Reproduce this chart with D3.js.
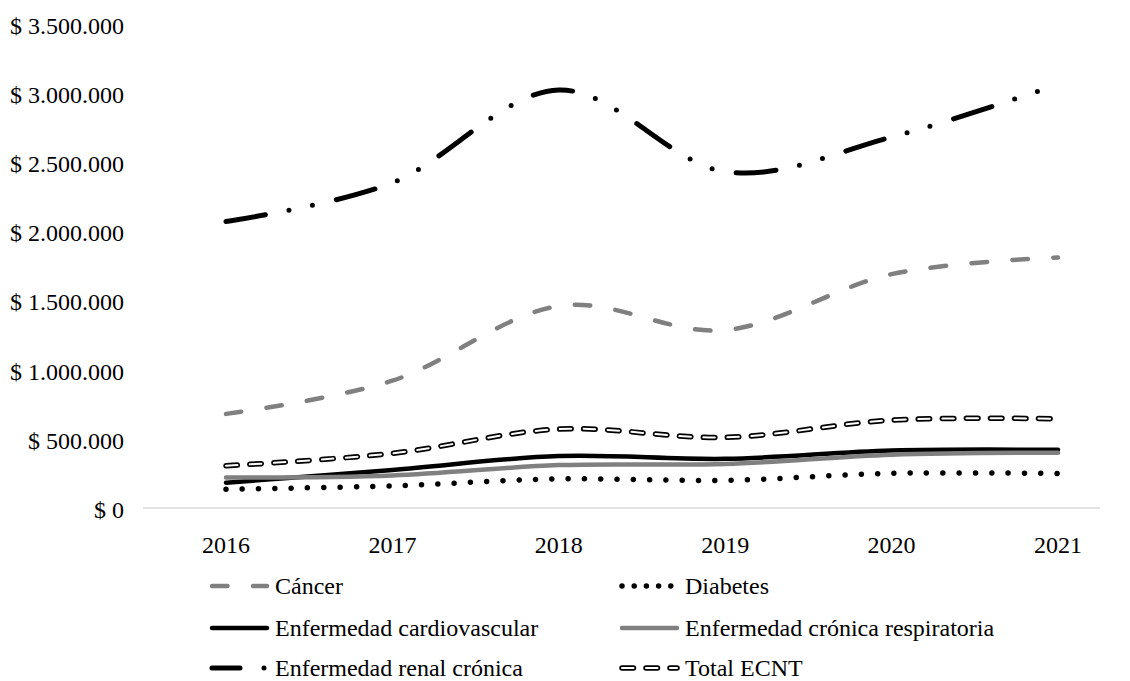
<!DOCTYPE html>
<html>
<head>
<meta charset="utf-8">
<script src="https://cdn.jsdelivr.net/npm/d3@7"></script>
<style>
  body { margin: 0; background: #fff; }
</style>
</head>
<body>
<svg id="chart" width="1130" height="681"></svg>
<script>
const years = ["2016", "2017", "2018", "2019", "2020", "2021"];
const yTicks = [0, 500000, 1000000, 1500000, 2000000, 2500000, 3000000, 3500000];

const cancer = [680000, 920000, 1460000, 1285000, 1690000, 1810000];
const diabetes = [135000, 160000, 210000, 200000, 250000, 250000];
const cardiovascular = [183000, 275000, 375000, 355000, 415000, 420000];
const respiratoria = [220000, 235000, 310000, 318000, 385000, 400000];
const renal = [2070000, 2350000, 3020000, 2430000, 2680000, 3060000];
const totalEcnt = [305000, 395000, 570000, 510000, 635000, 645000];

const seriesNames = ["Cáncer", "Diabetes", "Enfermedad cardiovascular",
  "Enfermedad crónica respiratoria", "Enfermedad renal crónica", "Total ECNT"];

const FONT = "'Liberation Serif', 'DejaVu Serif', 'Times New Roman', Times, serif";

// line styles per series
const styles = [
  { stroke: "#808080", width: 4.5, dash: "15.5 25.5", cap: "round" },
  { stroke: "#000", width: 5.5, dash: "0 16.3", legendDash: "0 12.2", cap: "round" },
  { stroke: "#000", width: 4.5, dash: null, cap: "round" },
  { stroke: "#808080", width: 4.5, dash: null, cap: "round" },
  { stroke: "#000", width: 5, dash: "40 24 0 24 0 24.5", cap: "round", legendOffset: 12 },
  { stroke: "#000", width: 5.5, dash: "11.5 12.5", cap: "round", hollow: true }
];

const allSeries = [cancer, diabetes, cardiovascular, respiratoria, renal, totalEcnt];

const svg = d3.select("#chart")
  .attr("font-family", FONT);

const x = d3.scalePoint().domain(years).range([226, 1058]);
const y = d3.scaleLinear().domain([0, 3500000]).range([508, 23.6]);

const fmt = v => "$ " + d3.format(",")(v).replace(/,/g, ".");

// baseline
svg.append("line")
  .attr("x1", 143).attr("x2", 1100)
  .attr("y1", y(0)).attr("y2", y(0))
  .attr("stroke", "#d9d9d9")
  .attr("stroke-width", 1.5);

// y labels
svg.append("g")
  .selectAll("text")
  .data(yTicks)
  .enter().append("text")
    .attr("x", 124)
    .attr("y", d => y(d) + 2)
    .attr("text-anchor", "end")
    .attr("dominant-baseline", "central")
    .attr("font-size", 24)
    .attr("font-family", FONT)
    .text(fmt);

// x labels
svg.append("g")
  .selectAll("text")
  .data(years)
  .enter().append("text")
    .attr("x", d => x(d))
    .attr("y", 545)
    .attr("text-anchor", "middle")
    .attr("dominant-baseline", "central")
    .attr("font-size", 24)
    .attr("font-family", FONT)
    .text(d => d);

const line = d3.line()
  .x((d, i) => x(years[i]))
  .y(d => y(d))
  .curve(d3.curveCatmullRom.alpha(0));

function styledPath(g, st, dash) {
  const p = g.append("path")
    .attr("fill", "none")
    .attr("stroke", st.stroke)
    .attr("stroke-width", st.width)
    .attr("stroke-linecap", st.cap)
    .attr("stroke-linejoin", "round");
  if (dash) p.attr("stroke-dasharray", dash);
  if (st.hollow) {
    const inner = g.append("path")
      .attr("fill", "none")
      .attr("stroke", "#fff")
      .attr("stroke-width", 2)
      .attr("stroke-linecap", "round")
      .attr("stroke-dasharray", dash);
    return [p, inner];
  }
  return [p];
}

allSeries.forEach((vals, idx) => {
  const g = svg.append("g").attr("class", "series");
  styledPath(g, styles[idx], styles[idx].dash).forEach(p => p.datum(vals).attr("d", line));
});

// legend
const legendCols = [212, 622];
const legendRows = [586, 628, 668];
const swatchLen = 55;

seriesNames.forEach((name, idx) => {
  const st = styles[idx];
  const lx = legendCols[idx % 2];
  const ly = legendRows[Math.floor(idx / 2)];
  const g = svg.append("g").attr("class", "legend-item");
  styledPath(g, st, st.legendDash || st.dash).forEach(p => {
    p.attr("d", `M${lx},${ly}H${lx + swatchLen}`);
    if (st.legendOffset) p.attr("stroke-dashoffset", st.legendOffset);
  });
  g.append("text")
    .attr("x", lx + swatchLen + 8)
    .attr("y", ly)
    .attr("dominant-baseline", "central")
    .attr("font-size", 24)
    .attr("font-family", FONT)
    .text(name);
});
</script>
</body>
</html>
